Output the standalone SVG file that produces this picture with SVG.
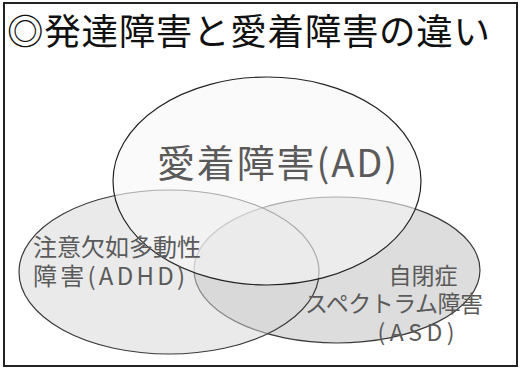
<svg xmlns="http://www.w3.org/2000/svg" width="520" height="370" viewBox="0 0 520 370">
<style>
.t{font-family:"Noto Sans CJK JP","Noto Sans",sans-serif}
.lbl{font-family:"Noto Sans CJK JP","Noto Sans",sans-serif;fill:#5a5a5a}
.ell{stroke:#3a3a3a;stroke-width:1.2}
</style>
<rect x="0" y="0" width="520" height="370" fill="#fff"/>
<rect x="4" y="3" width="513" height="363" fill="#fff" stroke="#222" stroke-width="2"/>
<text class="t" x="7" y="45" font-size="36.5" fill="#111" textLength="483" lengthAdjust="spacing">◎発達障害と愛着障害の違い</text>
<g id="asd"><ellipse class="ell" cx="337" cy="270" rx="143" ry="73" fill="#bcbcbc" fill-opacity="0.5"/></g>
<g id="adhd"><ellipse class="ell" cx="169" cy="272" rx="150" ry="82" fill="#d6d6d6" fill-opacity="0.5"/></g>
<g id="ad"><ellipse cx="267" cy="181" rx="154" ry="104" fill="#f6f6f6" fill-opacity="0.6" stroke="#222" stroke-width="1.2"/></g>
<g id="connectors"></g>
<g id="labels">
<text class="lbl" x="157" y="177" font-size="38" textLength="240" lengthAdjust="spacing">愛着障害(AD)</text>
<text class="lbl" font-size="24"><tspan x="33" y="256">注意欠如多動性</tspan><tspan x="33" y="285" textLength="152" lengthAdjust="spacing">障害(ADHD)</tspan></text>
<text class="lbl" font-size="23" text-anchor="middle"><tspan x="423" y="284">自閉症</tspan><tspan x="394" y="312" textLength="178" lengthAdjust="spacing">スペクトラム障害</tspan><tspan x="416" y="341" textLength="77" lengthAdjust="spacing">(ASD)</tspan></text>
</g>
</svg>
